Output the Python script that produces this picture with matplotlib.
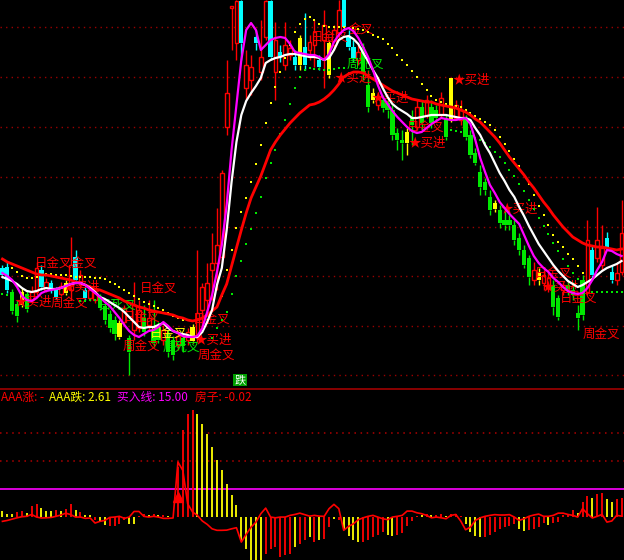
import numpy as np
import matplotlib
matplotlib.use("Agg")
import matplotlib.pyplot as plt

plt.rcParams['font.family'] = ['Noto Sans CJK SC', 'DejaVu Sans']

nan = np.nan

# candle kind: up = red hollow, dn = green, cy = cyan, ye = yellow
kinds = ['cy', 'cy', 'dn', 'dn', 'ye', 'dn', 'up', 'up', 'cy', 'up',
         'cy', 'cy', 'up', 'ye', 'up', 'cy', 'up', 'cy', 'up', 'up',
         'dn', 'dn', 'dn', 'dn', 'ye', 'up', 'dn', 'up', 'up', 'dn',
         'up', 'dn', 'dn', 'up', 'dn', 'dn', 'up', 'dn', 'up', 'ye',
         'up', 'up', 'up', 'up', 'up', 'up', 'up', 'up', 'up', 'cy',
         'up', 'up', 'cy', 'up', 'up', 'cy', 'up', 'cy', 'up', 'up',
         'cy', 'ye', 'cy', 'up', 'up', 'cy', 'up', 'ye', 'up', 'up',
         'cy', 'cy', 'cy', 'up', 'dn', 'dn', 'ye', 'up', 'dn', 'dn',
         'dn', 'dn', 'dn', 'ye', 'dn', 'up', 'dn', 'up', 'dn', 'dn',
         'up', 'dn', 'ye', 'up', 'up', 'dn', 'dn', 'dn', 'dn', 'dn',
         'dn', 'ye', 'dn', 'dn', 'dn', 'dn', 'dn', 'dn', 'dn', 'up',
         'ye', 'up', 'up', 'dn', 'dn', 'up', 'dn', 'dn', 'dn', 'dn',
         'up', 'cy', 'up', 'up', 'cy', 'cy', 'up', 'up']

opens = [13.2, 13.3, 10.8, 9.6, 10.8, 10.6, 10.0, 10.8, 13.0, 11.0,
         11.7, 11.0, 10.6, 11.7, 11.0, 14.3, 11.5, 11.0, 10.2, 10.0,
         10.3, 9.4, 8.6, 8.0, 7.7, 7.8, 6.2, 7.0, 7.2, 8.2,
         7.5, 7.0, 7.3, 6.0, 6.7, 6.0, 5.5, 6.2, 6.0, 7.3,
         6.3, 9.0, 10.0, 13.0, 13.7, 14.3, 27.3, 39.2, 35.7, 39.9,
         31.2, 32.0, 36.3, 32.8, 36.3, 39.9, 32.8, 34.8, 33.5, 34.5,
         34.3, 36.2, 35.3, 35.0, 35.5, 34.0, 36.0, 35.7, 35.5, 36.7,
         40.0, 36.3, 35.3, 34.0, 35.3, 31.5, 30.7, 29.5, 30.0, 29.7,
         29.0, 26.7, 26.0, 26.8, 28.2, 27.3, 29.3, 28.5, 29.3, 29.0,
         28.5, 28.2, 32.2, 28.2, 28.0, 28.2, 26.5, 24.7, 22.8, 21.8,
         20.3, 19.7, 19.0, 18.0, 18.0, 17.5, 16.2, 15.0, 14.2, 12.0,
         12.8, 11.7, 11.2, 11.5, 10.2, 11.0, 11.5, 11.0, 8.7, 12.0,
         10.8, 15.0, 14.2, 13.5, 16.2, 12.8, 12.0, 12.8]

closes = [12.5, 11.0, 8.9, 8.4, 9.5, 9.1, 10.8, 13.2, 11.3, 11.8,
          11.0, 10.3, 11.4, 10.7, 13.5, 12.0, 12.5, 10.2, 11.0, 10.7,
          9.2, 8.0, 7.2, 6.6, 6.3, 9.2, 4.8, 9.5, 9.0, 6.8,
          8.2, 5.7, 6.0, 7.0, 4.8, 4.5, 6.4, 5.4, 6.8, 5.9,
          8.7, 11.3, 11.7, 13.7, 15.5, 22.7, 30.7, 39.4, 39.9, 35.7,
          33.5, 33.3, 35.7, 34.3, 39.9, 34.3, 36.0, 34.3, 35.5, 35.2,
          33.5, 33.5, 33.5, 35.8, 36.8, 33.3, 37.5, 32.5, 37.0, 39.0,
          37.3, 35.3, 34.2, 34.8, 32.7, 29.3, 30.0, 30.3, 29.2, 29.0,
          26.5, 26.0, 25.7, 25.7, 27.5, 29.3, 27.7, 30.0, 27.7, 28.2,
          30.2, 26.3, 28.0, 29.5, 29.0, 26.3, 24.5, 23.7, 21.3, 21.0,
          19.0, 19.1, 17.7, 17.5, 17.5, 16.0, 15.0, 13.5, 12.3, 13.0,
          12.0, 12.5, 12.2, 9.3, 8.3, 11.5, 11.0, 10.5, 8.2, 8.5,
          16.0, 12.5, 16.0, 15.2, 15.3, 12.0, 12.7, 16.7]

highs = [13.5, 13.8, 11.1, 10.0, 11.2, 11.0, 11.4, 13.8, 13.5, 12.2,
         12.0, 11.3, 11.8, 12.0, 16.3, 15.0, 13.0, 11.3, 11.5, 11.0,
         10.6, 9.7, 9.0, 8.4, 8.0, 9.5, 6.5, 11.8, 10.0, 9.5,
         10.0, 10.0, 7.8, 7.5, 7.0, 6.4, 7.0, 6.6, 7.2, 7.6,
         15.0, 11.7, 13.7, 16.7, 19.2, 23.0, 34.0, 39.4, 40.0, 40.0,
         35.0, 34.5, 37.0, 38.0, 40.0, 40.0, 37.8, 35.5, 37.8, 36.0,
         35.0, 36.5, 38.7, 36.5, 38.0, 34.5, 39.0, 36.0, 37.5, 40.0,
         40.0, 37.0, 36.0, 35.5, 35.7, 33.0, 31.2, 30.8, 30.5, 30.3,
         29.5, 27.2, 27.0, 27.2, 29.0, 30.0, 30.0, 30.5, 30.0, 29.5,
         30.8, 28.5, 32.2, 30.0, 30.0, 28.5, 27.0, 25.2, 23.5, 22.2,
         21.0, 20.0, 19.5, 19.0, 18.5, 18.0, 16.7, 15.5, 14.5, 13.8,
         13.2, 13.0, 12.8, 12.0, 10.5, 11.8, 12.0, 11.8, 9.5, 12.5,
         18.0, 15.5, 19.3, 17.5, 16.8, 13.5, 13.8, 20.0]

lows = [12.2, 10.7, 8.6, 7.8, 9.3, 8.8, 9.7, 10.5, 11.0, 10.8,
        10.7, 10.1, 10.4, 10.5, 10.0, 11.7, 11.2, 10.0, 9.9, 9.7,
        9.0, 7.6, 6.8, 6.0, 6.1, 7.5, 2.5, 6.0, 6.8, 6.4,
        7.0, 5.3, 5.7, 5.5, 4.3, 4.0, 5.0, 4.8, 5.5, 5.7,
        5.8, 7.0, 8.7, 10.0, 11.0, 13.8, 26.5, 35.0, 34.0, 34.0,
        30.0, 30.5, 35.0, 32.0, 36.0, 34.0, 30.0, 33.8, 33.0, 34.0,
        33.0, 33.0, 33.0, 34.0, 33.3, 33.0, 31.2, 32.2, 35.0, 36.0,
        37.0, 35.0, 33.8, 33.5, 32.0, 28.8, 29.7, 29.0, 28.8, 28.2,
        26.0, 25.0, 24.0, 24.5, 25.5, 27.0, 27.0, 28.2, 27.2, 27.8,
        28.2, 26.0, 27.8, 28.0, 27.5, 26.0, 24.2, 23.5, 20.5, 20.5,
        18.5, 18.8, 17.2, 17.0, 17.0, 15.5, 14.5, 13.2, 11.5, 11.5,
        11.5, 11.0, 10.8, 8.5, 8.0, 10.5, 10.5, 10.0, 7.0, 8.0,
        10.5, 12.0, 13.8, 13.0, 15.0, 11.7, 11.5, 12.5]

# slow red average
red_line = [14.1, 13.8, 13.6, 13.4, 13.2, 13.0, 12.8, 12.6, 12.5, 12.5,
            12.4, 12.3, 12.2, 12.1, 12.0, 11.8, 11.7, 11.5, 11.3, 11.1,
            11.0, 10.8, 10.6, 10.4, 10.2, 9.9, 9.7, 9.5, 9.3, 9.2,
            9.0, 8.9, 8.8, 8.7, 8.6, 8.5, 8.3, 8.2, 8.0, 7.9,
            8.0, 8.2, 8.5, 8.9, 9.3, 10.5, 11.6, 13.4, 15.2, 17.0,
            18.7, 20.2, 21.3, 22.4, 23.7, 25.0, 25.8, 26.5, 27.1, 27.7,
            28.2, 28.7, 29.1, 29.5, 29.6, 29.8, 30.1, 30.5, 31.0, 31.6,
            32.3, 32.6, 32.8, 32.8, 32.7, 32.4, 32.1, 31.8, 31.5, 31.2,
            30.9, 30.7, 30.5, 30.3, 30.1, 30.0, 29.9, 29.8, 29.8, 29.6,
            29.5, 29.4, 29.3, 29.2, 29.0, 28.8, 28.5, 28.1, 27.8, 27.3,
            26.8, 26.3, 25.7, 25.0, 24.3, 23.7, 23.1, 22.5, 21.8, 21.2,
            20.5, 19.8, 19.2, 18.5, 17.9, 17.3, 16.8, 16.3, 16.0, 15.7,
            15.5, 15.4, 15.3, 15.3, 15.2, 15.1, 15.0, 15.1]

white_line = [12.3, 12.1, 11.9, 11.6, 11.2, 10.9, 10.8, 10.9, 11.1, 11.2,
              11.1, 11.1, 11.2, 11.4, 11.6, 11.7, 11.7, 11.5, 11.2, 10.8,
              10.3, 10.1, 9.8, 9.5, 9.2, 8.8, 8.3, 7.8, 7.3, 7.2,
              7.3, 7.3, 7.5, 7.7, 7.2, 6.9, 6.7, 6.6, 6.5, 6.3,
              6.3, 6.8, 7.8, 9.0, 11.5, 13.2, 17.0, 21.8, 25.8, 28.5,
              29.9, 30.7, 31.4, 32.2, 33.7, 34.0, 34.2, 34.3, 34.5, 34.6,
              34.6, 34.5, 34.4, 34.3, 34.3, 34.2, 34.0, 34.2, 35.0, 36.0,
              36.3, 36.4, 36.1, 35.6, 34.7, 33.9, 33.0, 32.2, 31.2, 30.3,
              29.6, 29.2, 28.9, 28.6, 28.2, 28.2, 28.3, 28.4, 28.5, 28.5,
              28.5, 28.5, 28.4, 28.3, 28.2, 28.2, 28.0, 27.2, 26.5, 25.5,
              24.7, 23.7, 22.7, 21.9, 21.0, 20.3, 19.3, 18.4, 17.4, 16.5,
              15.6, 14.9, 14.2, 13.5, 12.9, 12.4, 11.9, 11.6, 11.3, 11.5,
              11.8, 12.1, 12.5, 12.9, 13.2, 13.4, 13.6, 13.9]

pink_line = [12.7, 12.4, 12.0, 11.3, 10.4, 10.0, 9.9, 10.2, 10.7, 10.9,
             11.0, 11.1, 11.2, 11.4, 11.6, 11.7, 11.7, 11.5, 11.1, 10.7,
             10.3, 9.8, 9.4, 8.8, 8.2, 7.5, 6.9, 6.5, 6.3, 6.6,
             6.9, 7.0, 7.3, 7.8, 7.4, 6.9, 6.7, 6.4, 6.3, 6.3,
             6.4, 7.2, 8.8, 10.5, 12.8, 15.5, 19.5, 25.0, 29.5, 34.0,
             37.0, 37.7, 37.0, 35.0, 35.5, 36.0, 36.2, 36.3, 36.2, 35.6,
             34.8, 34.7, 34.6, 34.5, 34.5, 34.3, 34.0, 34.6, 35.8, 36.5,
             37.0, 37.2, 36.9, 36.2, 35.3, 34.3, 33.0, 31.5, 30.3, 29.6,
             28.9, 28.3, 27.8, 27.3, 26.9, 26.7, 26.8, 27.2, 27.6, 27.9,
             28.2, 28.1, 28.0, 28.0, 28.1, 28.2, 27.6, 26.0, 24.2, 22.8,
             21.5, 20.7, 19.8, 19.2, 18.6, 18.1, 17.6, 16.5, 15.4, 14.4,
             13.7, 13.2, 12.8, 12.2, 11.8, 11.3, 10.9, 10.7, 10.6, 10.7,
             11.2, 12.0, 13.0, 13.8, 15.0, 14.9, 14.6, 14.4]

yellow_dots = [nan, nan, 13.2, 12.8, 12.4, 12.2, 12.2, 12.3, 12.5, 12.6,
               12.6, 12.5, 12.5, 12.5, 12.4, 12.3, 12.3, 12.3, 12.3, 12.2,
               12.2, 12.1, 11.8, 11.6, 11.3, 11.0, 10.7, 10.4, 10.1, 9.8,
               9.6, 9.4, 9.2, 9.0, 8.7, 8.4, 8.2, 8.0, 8.0, nan,
               nan, nan, nan, nan, nan, 10.4, 13.0, 15.0, 17.2, 18.8,
               20.2, 21.8, 23.6, 25.5, 27.7, 29.7, 31.3, 32.8, 34.2, 35.5,
               36.8, 37.6, 38.1, 38.3, 38.0, 37.6, 37.4, 37.3, 37.3, 37.3,
               37.3, 37.2, 37.2, 37.1, 37.0, 36.8, 36.5, 36.3, 36.1, 35.6,
               35.2, 34.5, 34.0, 33.5, 32.9, 32.3, 31.6, 31.0, 30.4, 30.0,
               29.8, 29.6, 29.5, 29.4, 29.3, 29.0, 28.7, 28.4, 28.1, 27.8,
               27.5, 27.0, 26.3, 25.6, 24.9, 24.1, 23.4, 22.5, 21.6, 20.5,
               19.4, 18.5, 17.5, 16.5, 15.8, 15.3, 14.6, 14.1, 13.4, 12.7,
               nan, nan, nan, nan, nan, nan, nan, nan]

green_dots = [10.6, 10.5, 10.4, nan, nan, nan, nan, nan, nan, nan,
              nan, nan, nan, nan, nan, nan, 9.9, 9.9, 10.0, 10.0,
              9.8, nan, nan, nan, nan, nan, nan, nan, nan, nan,
              nan, nan, nan, nan, nan, nan, nan, nan, nan, nan,
              nan, nan, nan, 6.2, 7.2, 8.0, 8.8, 10.6, 12.4, 13.9,
              15.6, 17.1, 18.7, 20.3, 22.2, 23.7, 25.0, 26.6, 28.0, 29.6,
              31.2, 32.3, 33.0, 33.2, 33.1, 33.1, 33.0, 33.0, 33.1, 33.2,
              33.2, nan, nan, nan, nan, nan, nan, nan, nan, nan,
              nan, nan, nan, nan, nan, nan, nan, nan, nan, nan,
              nan, nan, 27.0, 26.9, 26.8, 26.6, 26.4, 26.2, 26.0, 25.7,
              25.3, 24.8, 24.3, 23.7, 23.0, 22.4, 21.6, 20.9, 20.0, 19.1,
              18.2, 17.4, 16.6, 15.7, 14.9, 14.1, 13.4, 12.7, 12.1, 11.6,
              11.2, 10.8, 10.8, 10.8, 10.8, 10.8, 10.8, 10.8]

grid_prices = [37.3, 32.3, 27.3, 22.3, 17.3, 12.4, 7.4, 2.5]

# signal labels on the price panel: text, index, price, colour
sig_text = ['日金叉金叉', '★买进', '周金叉', '★买进', '日死叉', '日金叉',
            '日金叉', '周金叉', '日金叉', '周死叉', '日金叉', '★买进', '周金叉',
            '日金叉', '金叉', '★买进', '周死叉', '★买进', '★买进', '日金叉',
            '★买进', '★买进', '日金叉', '★买进', '日金叉', '周金叉']
sig_x = [6.7, 2.4, 9.8, 12.3, 19.8, 28.2,
         24.7, 24.7, 30.3, 32.9, 39.1, 39.5, 40.0,
         63.3, 71.1, 68.2, 70.6, 75.8, 92.4, 83.0,
         83.4, 102.1, 109.2, 110.6, 114.4, 119.1]
sig_y = [13.6, 9.8, 9.6, 11.3, 9.5, 11.1,
         8.2, 5.3, 6.6, 5.3, 8.0, 6.0, 4.4,
         36.2, 37.0, 32.2, 33.6, 30.2, 32.0, 27.2,
         25.7, 19.1, 12.6, 11.3, 10.1, 6.5]
sig_col = ['r', 'r', 'r', 'r', 'g', 'r',
           'r', 'r', 'y', 'g', 'r', 'r', 'r',
           'r', 'r', 'r', 'g', 'r', 'r', 'r',
           'r', 'r', 'r', 'r', 'r', 'r']

# lower panel: AAA bars and the red oscillator
bar_vals = [3.0, 1.8, 1.4, 2.5, 3.0, 2.1, 5.7, 6.8, 4.8, 3.0,
            3.0, 3.6, 3.0, 4.5, 6.8, 3.6, 2.5, 1.3, 1.1, -1.4,
            -2.7, -4.5, -4.8, -4.8, -3.6, -1.4, -3.6, -3.6, 0.5, 1.8,
            0.9, 1.8, 0.9, 1.3, 0.5, 0.3, 26.8, 46.4, 55.4, 57.1,
            55.4, 50.0, 44.3, 37.5, 30.4, 25.0, 17.5, 11.6, 6.3, -12.5,
            -17.0, -23.2, -23.2, -23.2, -19.6, -17.0, -16.1, -21.4, -20.5, -19.6,
            -16.1, -14.3, -12.5, -10.7, -13.4, -12.5, -11.6, -5.4, -0.9, -1.8,
            -7.1, -10.4, -12.5, -13.4, -13.4, -12.5, -10.7, -9.8, -8.0, -9.8,
            -10.4, -9.8, -8.6, -5.0, -2.3, 0.4, 0.9, 1.8, 0.9, 0.9,
            1.4, 0.5, 1.8, 1.8, 0.5, -3.6, -8.0, -10.4, -10.7, -10.7,
            -9.8, -8.0, -6.3, -5.4, -5.0, -3.6, -6.3, -7.5, -7.1, -6.3,
            -5.4, -3.2, -4.1, -3.2, -2.7, 1.3, 1.3, 3.6, 2.1, 7.9,
            11.1, 10.2, 12.1, 13.0, 9.8, 7.9, 9.5, 10.4]

bar_cols = ['y', 'y', 'y', 'r', 'r', 'y', 'r', 'r', 'y', 'y',
            'y', 'r', 'y', 'r', 'r', 'y', 'r', 'y', 'y', 'r',
            'y', 'y', 'r', 'r', 'r', 'r', 'y', 'y', 'r', 'r',
            'y', 'r', 'y', 'r', 'y', 'r', 'r', 'r', 'r', 'r',
            'y', 'y', 'y', 'y', 'y', 'y', 'y', 'y', 'y', 'y',
            'y', 'y', 'y', 'y', 'r', 'r', 'r', 'r', 'r', 'r',
            'y', 'r', 'r', 'y', 'r', 'y', 'r', 'r', 'y', 'r',
            'y', 'y', 'y', 'y', 'r', 'r', 'r', 'r', 'r', 'y',
            'y', 'r', 'r', 'r', 'r', 'r', 'y', 'r', 'y', 'r',
            'r', 'y', 'r', 'r', 'r', 'y', 'y', 'y', 'y', 'r',
            'r', 'r', 'r', 'r', 'r', 'r', 'y', 'y', 'r', 'r',
            'r', 'r', 'y', 'r', 'r', 'r', 'r', 'r', 'y', 'r',
            'r', 'y', 'r', 'r', 'y', 'y', 'r', 'r']

osc_line = [-2.3, -1.8, -1.1, -0.4, 0.2, 0.4, 1.4, 0.0, -0.5, -0.4,
            -0.2, 0.4, 1.1, 2.1, 1.3, 0.0, 0.0, -0.7, -0.5, -3.2,
            -2.3, -1.8, -0.2, 0.0, 0.4, -0.7, 0.0, 3.0, 3.0, 0.4,
            0.0, 0.4, 0.0, -0.7, -0.7, -0.5, 29.5, 25.0, 7.1, 2.7,
            0.9, -2.1, -3.9, -6.3, -7.1, -7.1, -7.0, -6.3, -5.7, -13.4,
            -9.3, -5.4, -2.7, 1.8, 4.8, 0.0, -0.4, 0.0, 0.0, 0.9,
            1.4, 2.1, 1.3, 0.5, 0.9, 0.5, 0.4, 4.5, 6.8, 4.5,
            -7.1, -5.0, -3.6, -1.4, -0.4, 0.4, 0.9, 0.0, -0.9, -1.4,
            0.0, 0.4, 0.9, 3.2, 3.2, 2.3, 1.8, 0.9, -0.4, 0.0,
            -0.4, -0.9, 0.9, 1.4, -2.1, -6.8, -5.4, -1.8, -0.4, 0.4,
            0.9, 1.3, 1.1, 1.1, 1.3, 0.0, -1.8, -0.9, 0.4, 1.1,
            1.6, 0.4, 0.4, 0.9, 2.1, 2.1, 1.4, 0.9, 0.0, 4.5,
            1.8, -0.5, 0.4, 1.4, -2.7, -2.1, 0.9, 0.5]

buy_line = 15.0
arrow_idx = 36
arrow_val = 10.7

RED = '#ff0000'
GREEN = '#00e800'
CYAN = '#00ffff'
YELLOW = '#ffff00'
MAGENTA = '#ff00ff'
kind_col = {'up': RED, 'dn': GREEN, 'cy': CYAN, 'ye': YELLOW}
short_col = {'r': RED, 'g': GREEN, 'y': YELLOW}

n = len(closes)
idx = np.arange(n)

fig = plt.figure(figsize=(6.24, 5.6), dpi=100, facecolor='black')
ax = fig.add_axes([0, 172 / 560, 1, 388 / 560])
ax2 = fig.add_axes([0, 0, 1, 171 / 560])
for a in (ax, ax2):
    a.set_facecolor('black')
    a.set_xlim(-0.5, n - 0.5)
    a.set_xticks([])
    a.set_yticks([])
    for s in a.spines.values():
        s.set_visible(False)
ax.set_ylim(1.2, 40.0)
ax2.set_ylim(-23.0, 68.6)

for g in grid_prices:
    ax.axhline(g, color='#9a0000', lw=1, ls=(0, (1, 3)), zorder=1)

# candles
for i in range(n):
    o, c, h, l = opens[i], closes[i], highs[i], lows[i]
    col = kind_col[kinds[i]]
    top, bot = max(o, c), min(o, c)
    ax.vlines(i, top, h, color=col, lw=1, zorder=3)
    ax.vlines(i, l, bot, color=col, lw=1, zorder=3)
    if kinds[i] == 'up':
        ax.bar(i, max(top - bot, 0.1), bottom=bot, width=0.75,
               facecolor='black', edgecolor=col, lw=1, zorder=3)
    else:
        ax.bar(i, max(top - bot, 0.15), bottom=bot, width=0.85,
               color=col, lw=0, zorder=3)

for t, x, y, c in zip(sig_text, sig_x, sig_y, sig_col):
    ax.text(x, y, t, color=short_col[c], fontsize=9, ha='left', va='center', zorder=3.5)

ax.plot(idx, yellow_dots, ls='none', marker='s', ms=1.6, mew=0, color=YELLOW, zorder=4)
ax.plot(idx, green_dots, ls='none', marker='s', ms=1.6, mew=0, color=GREEN, zorder=4)
ax.plot(idx, red_line, color=RED, lw=2.0, zorder=4)
ax.plot(idx, white_line, color='white', lw=1.6, zorder=5)
ax.plot(idx, pink_line, color=MAGENTA, lw=1.6, zorder=6)

ax.text(48.7, 2.0, '跌', color='white', fontsize=8, ha='center', va='center', zorder=7,
        bbox=dict(boxstyle='square,pad=0.1', facecolor='#00a000', edgecolor='none'))

# lower panel
ax2.spines['top'].set_visible(True)
ax2.spines['top'].set_color('#a00000')
ax2.spines['top'].set_linewidth(1.2)
for lvl in (30, 45):
    ax2.axhline(lvl, color='#b00000', lw=1.1, ls=(0, (1, 3)), zorder=1)
ax2.axhline(buy_line, color=MAGENTA, lw=1.2, zorder=2)
ax2.vlines(idx, 0, bar_vals, colors=[short_col[c] for c in bar_cols], lw=1.3, zorder=3)
ax2.plot(idx, osc_line, color=RED, lw=1.2, zorder=4)
ax2.plot(arrow_idx, arrow_val, marker='^', color=RED, ms=7, zorder=5)

header = [('AAA涨: -', RED, 1), ('AAA跌: 2.61', YELLOW, 49),
          ('买入线: 15.00', MAGENTA, 117), ('房子: -0.02', RED, 195)]
for s, c, px in header:
    fig.text(px / 624, 1 - 397 / 560, s, color=c, fontsize=8.5, ha='left', va='center')

fig.savefig('out.png', dpi=100, facecolor='black')
